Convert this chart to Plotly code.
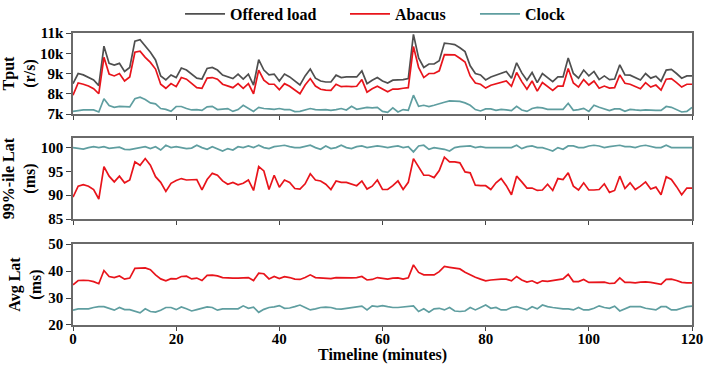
import plotly.graph_objects as go
from plotly.subplots import make_subplots

minutes = list(range(0, 121))

tput_offered = [8500, 9000, 8930, 8820, 8680, 8400, 10350, 9500, 9420, 9500, 9100,
    9300, 10600, 10670, 10380, 10050, 9670, 8880, 8680, 8930, 8800,
    9270, 9170, 8970, 8770, 8730, 9250, 9300, 9170, 8920, 8830,
    8750, 8970, 8720, 8970, 8430, 9680, 9170, 8930, 8970, 8630,
    8970, 8830, 8630, 8430, 8880, 9220, 8770, 8630, 8580, 8580,
    8920, 8800, 8830, 8820, 8830, 9130, 8500, 8670, 8800, 8630,
    8530, 8670, 8670, 8700, 8750, 10930, 9770, 9300, 9470, 9470,
    9630, 10500, 10470, 10430, 10270, 10080, 9380, 9000, 8930, 8680,
    8830, 8920, 9000, 9100, 8770, 9530, 9030, 8670, 9050, 8550,
    9000, 8800, 8600, 8830, 8830, 9770, 9000, 8770, 9170, 8880,
    9100, 8700, 8880, 8700, 8730, 9430, 8930, 8920, 8800, 8680,
    9000, 8770, 8870, 8620, 9170, 9200, 9000, 8770, 8880, 8880]

tput_abacus = [7930, 8530, 8470, 8380, 8250, 8000, 9800, 8970, 8880, 9000, 8630,
    8830, 10050, 10100, 9800, 9550, 9220, 8470, 8270, 8500, 8350,
    8800, 8720, 8500, 8300, 8270, 8770, 8800, 8720, 8470, 8380,
    8300, 8500, 8270, 8500, 8000, 9170, 8670, 8470, 8470, 8200,
    8500, 8370, 8200, 8000, 8430, 8750, 8380, 8220, 8180, 8170,
    8470, 8350, 8370, 8350, 8370, 8700, 8080, 8250, 8370, 8220,
    8100, 8230, 8230, 8270, 8300, 10330, 9300, 8800, 9000, 9000,
    9130, 9930, 9930, 9920, 9750, 9570, 8880, 8530, 8470, 8280,
    8420, 8480, 8550, 8630, 8370, 9050, 8600, 8220, 8630, 8130,
    8550, 8350, 8170, 8380, 8380, 9250, 8530, 8330, 8700, 8430,
    8630, 8270, 8380, 8280, 8300, 8930, 8520, 8470, 8370, 8250,
    8550, 8330, 8430, 8180, 8720, 8750, 8550, 8330, 8470, 8470]

tput_clock = [7130, 7180, 7200, 7200, 7200, 7100, 7750, 7420, 7330, 7380, 7380,
    7350, 7750, 7830, 7720, 7550, 7500, 7270, 7230, 7130, 7370,
    7370, 7270, 7200, 7220, 7180, 7350, 7380, 7220, 7230, 7270,
    7130, 7220, 7430, 7270, 7130, 7330, 7270, 7250, 7230, 7270,
    7220, 7220, 7120, 7130, 7200, 7270, 7220, 7200, 7220, 7180,
    7220, 7270, 7200, 7380, 7230, 7280, 7330, 7300, 7330, 7130,
    7080, 7300, 7100, 7220, 7180, 7930, 7380, 7430, 7370, 7430,
    7520, 7580, 7650, 7620, 7620, 7550, 7430, 7220, 7150, 7250,
    7250, 7180, 7230, 7200, 7170, 7380, 7200, 7130, 7270, 7330,
    7300, 7230, 7230, 7230, 7230, 7530, 7180, 7220, 7280, 7130,
    7430, 7330, 7250, 7170, 7250, 7250, 7130, 7230, 7200, 7180,
    7200, 7180, 7180, 7180, 7370, 7330, 7200, 7100, 7130, 7330]

p99_abacus = [89.6, 91.9, 92.2, 91.9, 91.2, 89.2, 96.0, 94.0, 92.8, 94.0, 92.6,
    93.2, 97.0, 96.3, 97.7, 96.3, 93.9, 92.7, 90.8, 92.5, 93.1,
    93.5, 93.2, 93.2, 93.3, 91.1, 93.3, 94.6, 94.2, 93.0, 92.3,
    92.7, 92.2, 92.5, 93.2, 91.0, 96.0, 95.1, 91.2, 94.2, 91.7,
    93.2, 92.7, 91.4, 91.3, 92.4, 94.5, 93.2, 93.0, 92.3, 91.2,
    93.0, 92.7, 92.7, 92.4, 92.0, 93.0, 91.3, 91.9, 93.2, 91.2,
    91.2, 92.0, 93.0, 91.2, 92.7, 97.7, 95.8, 94.2, 94.2, 93.7,
    95.2, 98.0, 97.0, 97.0, 96.8, 94.9, 94.7, 92.1, 92.0, 92.0,
    91.2, 92.6, 93.5, 92.0, 90.1, 94.0, 92.8, 91.5, 91.5, 91.0,
    91.1, 92.3, 91.0, 93.5, 93.3, 94.7, 91.9, 91.1, 92.6, 91.1,
    91.1, 91.2, 92.4, 90.6, 91.0, 94.0, 91.4, 92.6, 91.2, 91.9,
    92.8, 91.3, 91.7, 90.1, 93.9, 93.3, 91.8, 90.1, 91.5, 91.5]

p99_clock = [100.0, 99.8, 99.7, 100.0, 100.2, 100.0, 100.2, 99.85, 100.0, 100.1, 99.65,
    99.6, 99.8, 100.0, 100.2, 99.8, 100.2, 99.5, 100.5, 100.0, 100.2,
    100.0, 99.8, 99.9, 100.5, 100.0, 99.65, 100.2, 99.8, 99.3, 99.8,
    99.5, 100.2, 100.0, 100.35, 100.0, 100.5, 100.0, 99.8, 100.2, 100.35,
    100.5, 100.2, 100.0, 100.0, 100.2, 100.5, 100.0, 99.65, 100.35, 99.8,
    100.0, 100.5, 100.0, 99.8, 100.2, 100.35, 100.0, 100.2, 100.35, 100.2,
    100.0, 100.2, 100.35, 100.0, 100.2, 99.1, 100.35, 100.5, 99.65, 100.0,
    99.86, 99.65, 99.3, 100.0, 100.2, 100.35, 100.35, 100.0, 100.2, 100.0,
    100.0, 100.0, 100.0, 100.0, 100.0, 100.5, 99.8, 100.2, 100.35, 100.0,
    100.0, 99.65, 99.3, 100.0, 99.65, 100.35, 100.35, 100.0, 100.0, 100.35,
    100.5, 100.35, 100.0, 100.2, 100.35, 100.5, 100.2, 100.2, 100.0, 100.35,
    100.5, 100.2, 100.0, 100.0, 100.5, 100.0, 100.0, 100.0, 100.0, 100.0]

avg_abacus = [34.9, 36.5, 36.6, 36.5, 36.1, 35.3, 40.2, 38.0, 37.6, 38.2, 37.0,
    37.4, 41.0, 41.1, 41.2, 40.5, 38.6, 37.1, 36.4, 37.2, 37.1,
    38.0, 38.1, 37.1, 37.4, 36.5, 38.4, 38.5, 38.2, 37.6, 37.4,
    37.4, 37.4, 37.5, 37.6, 36.5, 39.2, 39.0, 37.1, 38.0, 37.2,
    37.9, 37.6, 37.0, 36.9, 37.6, 38.6, 37.6, 37.4, 37.2, 37.2,
    37.6, 37.5, 37.6, 37.5, 37.6, 38.0, 36.7, 36.9, 37.6, 37.4,
    37.0, 37.4, 37.5, 37.0, 37.5, 42.3, 39.5, 38.6, 38.5, 38.6,
    39.8, 41.7, 41.4, 41.2, 40.8, 39.6, 38.6, 37.7, 37.0, 36.4,
    36.7, 36.9, 37.0, 37.0, 36.4, 38.0, 36.7, 35.9, 36.4, 35.5,
    36.4, 36.2, 36.5, 37.0, 37.1, 38.8, 36.1, 36.1, 36.9, 35.8,
    35.9, 35.8, 35.9, 35.4, 35.5, 37.5, 35.8, 35.8, 35.6, 35.9,
    36.0, 35.8, 35.5, 35.1, 36.9, 37.0, 36.5, 35.8, 35.6, 35.6]

avg_clock = [25.5, 26.0, 26.0, 26.0, 26.5, 26.8, 26.8, 26.0, 25.5, 26.5, 25.7,
    25.7, 25.2, 24.5, 26.0, 25.0, 24.8, 25.5, 26.5, 26.5, 25.7,
    26.7, 26.0, 25.2, 25.7, 26.2, 26.7, 26.5, 25.5, 26.0, 26.0,
    26.0, 26.0, 27.1, 26.2, 26.6, 24.7, 25.8, 26.5, 26.7, 27.2,
    26.2, 26.3, 26.8, 27.4, 26.5, 25.6, 26.0, 26.5, 26.6, 26.5,
    26.0, 25.9, 26.2, 26.4, 26.8, 27.0, 25.6, 27.1, 26.8, 27.2,
    26.8, 26.5, 26.5, 26.7, 26.8, 27.1, 25.0, 26.0, 24.7, 26.0,
    26.2, 25.6, 26.5, 25.2, 25.0, 25.2, 26.5, 25.6, 26.5, 27.4,
    26.2, 26.5, 25.6, 25.6, 26.5, 26.8, 26.2, 25.6, 26.8, 26.0,
    27.4, 26.8, 26.5, 26.2, 26.0, 26.0, 25.6, 26.5, 25.6, 25.6,
    26.2, 27.1, 26.5, 26.2, 27.0, 25.2, 26.0, 26.8, 26.8, 26.8,
    26.2, 26.0, 25.6, 26.8, 26.8, 25.6, 25.6, 26.2, 26.8, 27.0]

x_ticks = [0, 20, 40, 60, 80, 100, 120]
tput_ticks = [7000, 8000, 9000, 10000, 11000]
tput_ticktext = ["7k", "8k", "9k", "10k", "11k"]
p99_ticks = [85, 90, 95, 100]
avg_ticks = [20, 30, 40, 50]

C_OFF = "#4f4f4f"
C_ABA = "#e8141b"
C_CLK = "#5f9ea0"
FONT = "Liberation Serif"

fig = make_subplots(rows=3, cols=1, shared_xaxes=False)

lw = 1.7
fig.add_trace(go.Scatter(x=minutes, y=tput_offered, mode="lines", name="Offered load",
                         legend="legend", line=dict(color=C_OFF, width=lw)), row=1, col=1)
fig.add_trace(go.Scatter(x=minutes, y=tput_abacus, mode="lines", name="Abacus",
                         legend="legend2", line=dict(color=C_ABA, width=lw)), row=1, col=1)
fig.add_trace(go.Scatter(x=minutes, y=tput_clock, mode="lines", name="Clock",
                         legend="legend3", line=dict(color=C_CLK, width=lw)), row=1, col=1)
fig.add_trace(go.Scatter(x=minutes, y=p99_clock, mode="lines", showlegend=False,
                         line=dict(color=C_CLK, width=lw)), row=2, col=1)
fig.add_trace(go.Scatter(x=minutes, y=p99_abacus, mode="lines", showlegend=False,
                         line=dict(color=C_ABA, width=lw)), row=2, col=1)
fig.add_trace(go.Scatter(x=minutes, y=avg_abacus, mode="lines", showlegend=False,
                         line=dict(color=C_ABA, width=lw)), row=3, col=1)
fig.add_trace(go.Scatter(x=minutes, y=avg_clock, mode="lines", showlegend=False,
                         line=dict(color=C_CLK, width=lw)), row=3, col=1)

tickfont = dict(family=FONT, size=15, color="black", weight="bold")
titlefont = dict(family=FONT, size=16, color="black", weight="bold")
axis_common = dict(showline=True, linecolor="#6a6a6a", linewidth=1.5, mirror=True,
                   ticks="outside", tickwidth=1.2, tickcolor="#444444",
                   showgrid=False, zeroline=False, tickfont=tickfont, automargin=False)

domains = [[0.7226, 1.0], [0.363, 0.640], [0.0, 0.277]]
for i, dom in enumerate(domains, start=1):
    fig.update_xaxes(range=[0, 120], tickvals=x_ticks, showticklabels=(i == 3),
                     ticklen=4, row=i, col=1, **axis_common)
    fig.update_yaxes(domain=dom, row=i, col=1)
fig.update_xaxes(ticklabelstandoff=-5, row=3, col=1)

fig.update_yaxes(range=[7000, 11000], tickvals=tput_ticks, ticktext=tput_ticktext, ticklen=5,
                 title=dict(text="Tput<br>(r/s)", font=titlefont, standoff=3),
                 row=1, col=1, **axis_common)
fig.update_yaxes(range=[85, 102], tickvals=p99_ticks, ticklen=5,
                 title=dict(text="99%-ile Lat<br>(ms)", font=titlefont, standoff=3),
                 row=2, col=1, **axis_common)
fig.update_yaxes(range=[20, 50], tickvals=avg_ticks, ticklen=5,
                 title=dict(text="Avg Lat<br>(ms)", font=titlefont, standoff=3),
                 row=3, col=1, **axis_common)

fig.add_annotation(text="Timeline (minutes)", xref="paper", yref="paper",
                   x=0.5, y=-0.104, xanchor="center", yanchor="middle",
                   showarrow=False, font=titlefont)

legfont = dict(family=FONT, size=16, color="black", weight="bold")
leg_common = dict(orientation="h", xanchor="left", y=1.065, yanchor="middle",
                  font=legfont, itemwidth=40, bgcolor="rgba(0,0,0,0)")
fig.update_layout(
    width=711, height=372,
    margin=dict(l=73, r=19, t=33, b=47, autoexpand=False),
    paper_bgcolor="white", plot_bgcolor="white",
    font=dict(family=FONT, size=16, color="black", weight="bold"),
    legend=dict(x=0.1729, **leg_common),
    legend2=dict(x=0.4394, **leg_common),
    legend3=dict(x=0.6494, **leg_common),
)

fig.write_html("out.html", config={"displayModeBar": False},
               post_script="document.body.style.margin='0';document.body.style.overflow='hidden';")
